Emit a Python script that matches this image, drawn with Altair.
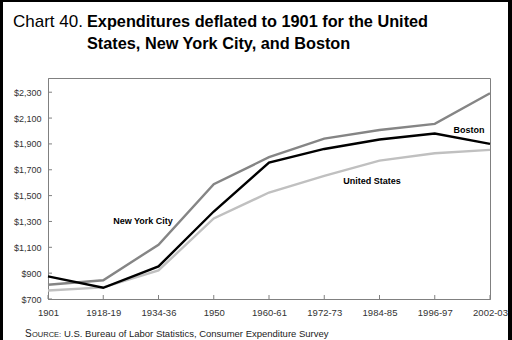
import altair as alt
import pandas as pd

periods = ["1901", "1918-19", "1934-36", "1950", "1960-61", "1972-73", "1984-85", "1996-97", "2002-03"]
nyc = [810, 845, 1120, 1589, 1797, 1941, 2008, 2055, 2292]
us = [766, 790, 921, 1323, 1524, 1653, 1771, 1828, 1854]
boston = [875, 787, 952, 1377, 1756, 1861, 1934, 1980, 1900]
y_ticks = [700, 900, 1100, 1300, 1500, 1700, 1900, 2100, 2300]

series_names = ["New York City", "United States", "Boston"]
series_colors = ["#858585", "#c0c0c0", "#000000"]

rows = []
for name, vals in zip(series_names, [nyc, us, boston]):
    for i, (p, v) in enumerate(zip(periods, vals)):
        rows.append({"period": p, "value": v, "series": name})
df = pd.DataFrame(rows)

W, H = 442, 221
L, T = 48, 78
FONT = "Liberation Sans"

xscale = alt.Scale(domain=periods, type="point", padding=0)
yscale = alt.Scale(domain=[700, 2410], nice=False, zero=False)
xaxis = alt.Axis(title=None, labelAngle=0, ticks=False, labelPadding=8,
                 labelFontSize=9.5, labelOverlap=False)
yaxis = alt.Axis(title=None, values=y_ticks, format="$,.0f", ticks=False,
                 labelPadding=7, labelFontSize=9, labelOverlap=False)

lines = alt.Chart(df).mark_line(strokeWidth=2.4).encode(
    x=alt.X("period:N", scale=xscale, sort=periods, axis=xaxis),
    y=alt.Y("value:Q", scale=yscale, axis=yaxis),
    color=alt.Color("series:N", scale=alt.Scale(domain=series_names, range=series_colors),
                    legend=None),
    order=alt.Order("order:Q"),
).transform_calculate(
    order="datum.series == 'Boston' ? 3 : (datum.series == 'United States' ? 2 : 1)"
)

xt = alt.Chart(pd.DataFrame({"period": periods})).mark_rule(color="#808080", strokeWidth=1).encode(
    x=alt.X("period:N", scale=xscale, sort=periods, axis=xaxis),
    y=alt.value(H), y2=alt.value(H - 4))
yt = alt.Chart(pd.DataFrame({"value": y_ticks})).mark_rule(color="#808080", strokeWidth=1).encode(
    y=alt.Y("value:Q", scale=yscale, axis=yaxis),
    x=alt.value(0), x2=alt.value(4))

one = alt.Data(values=[{}])

def txt(text, px, py, size, bold=False, align="left", baseline="alphabetic", color="#000000"):
    return alt.Chart(one).mark_text(
        text=text, align=align, baseline=baseline, font=FONT, fontSize=size,
        fontWeight="bold" if bold else "normal", color=color
    ).encode(x=alt.value(px - L), y=alt.value(py - T))

texts = [
    txt("Chart 40.", 13, 27, 17),
    txt("Expenditures deflated to 1901 for the United", 87, 27, 16.3, bold=True),
    txt("States, New York City, and Boston", 87, 49, 16.3, bold=True),
    txt("New York City", 143, 221, 9, bold=True, align="center", baseline="middle"),
    txt("United States", 372, 181, 9, bold=True, align="center", baseline="middle"),
    txt("Boston", 469, 130, 9, bold=True, align="center", baseline="middle"),
    txt("S", 25, 337, 10, color="#222222"),
    txt("OURCE:", 32, 337, 7.5, color="#222222"),
    txt("U.S. Bureau of Labor Statistics, Consumer Expenditure Survey", 64, 337, 9.5, color="#222222"),
]

border = [
    alt.Chart(one).mark_rule(color="#000000", strokeWidth=3).encode(
        x=alt.value(1.5 - L), y=alt.value(-T), y2=alt.value(340 - T)),
    alt.Chart(one).mark_rule(color="#000000", strokeWidth=4).encode(
        x=alt.value(510 - L), y=alt.value(-T), y2=alt.value(340 - T)),
    alt.Chart(one).mark_rule(color="#000000", strokeWidth=2).encode(
        y=alt.value(1 - T), x=alt.value(-L), x2=alt.value(512 - L)),
]

chart = alt.layer(lines, xt, yt, *texts, *border).properties(
    width=W, height=H,
    autosize=alt.AutoSizeParams(type="none"),
    padding={"left": L, "top": T, "right": 512 - L - W, "bottom": 340 - T - H},
    background="#ffffff",
).configure_view(
    stroke="#808080", strokeWidth=1
).configure_axis(
    domainColor="#808080", grid=False, labelColor="#333333", labelFont=FONT
)

chart.save("out.html", embed_options={"renderer": "svg", "actions": False})
